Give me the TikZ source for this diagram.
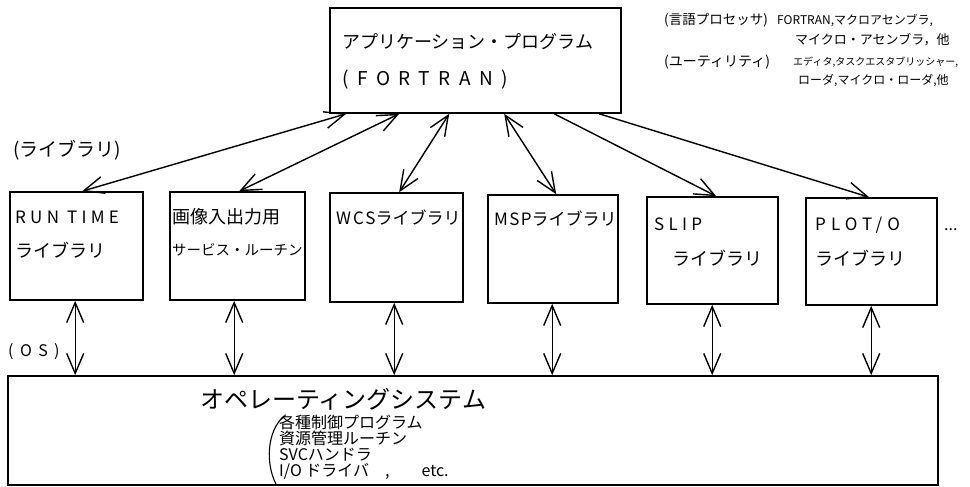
\documentclass[tikz,border=0pt]{standalone}
\usepackage{fontspec}
\setmainfont{Noto Sans CJK JP}
\usetikzlibrary{arrows.meta,calc}
\newcommand{\spc}[1]{\addfontfeatures{LetterSpace=#1}}
\begin{document}
\begin{tikzpicture}[x=1pt,y=-1pt,
  >={Straight Barb[length=20pt,width=17pt,line width=1.4pt]},
  box/.style={draw,line width=1.6pt,inner sep=0pt},
  lbl/.style={inner sep=0pt,anchor=west},
  bothconn/.style={line width=1.4pt,<->},
  oneconn/.style={line width=1.4pt,->}]
\useasboundingbox (0,0) rectangle (970,487);
% boxes
\node[box,minimum width=291pt,minimum height=105pt] (app) at (475.5,60.5) {};
\node[box,minimum width=133pt,minimum height=108pt] (lib1) at (76.5,246) {};
\node[box,minimum width=135pt,minimum height=108pt] (lib2) at (237.5,246) {};
\node[box,minimum width=133pt,minimum height=109pt] (lib3) at (396.5,247.5) {};
\node[box,minimum width=130pt,minimum height=108pt] (lib4) at (553,249) {};
\node[box,minimum width=131pt,minimum height=107pt] (lib5) at (712.5,250.5) {};
\node[box,minimum width=131pt,minimum height=107pt] (lib6) at (871.5,251.5) {};
\node[box,minimum width=930pt,minimum height=109pt] (os) at (473,430.5) {};
% texts
\node[lbl,font=\fontsize{18}{20}\selectfont] (appt1) at (342,42) {アプリケーション・プログラム};
\node[lbl,font=\fontsize{19}{20}\selectfont\spc{45}] (appt2) at (342,80) {(FORTRAN)};
\node[lbl,font=\fontsize{17}{18}\selectfont\spc{25}] (l1a) at (15,217) {RUN TIME};
\node[lbl,font=\fontsize{18}{18}\selectfont] (l1b) at (15,250) {ライブラリ};
\node[lbl,font=\fontsize{18}{18}\selectfont] (l2a) at (172,217) {画像入出力用};
\node[lbl,font=\fontsize{14.5}{16}\selectfont] (l2b) at (172,250) {サービス・ルーチン};
\node[lbl,font=\fontsize{17}{18}\selectfont] (l3a) at (336,218) {{\spc{12}WCS}ライブラリ};
\node[lbl,font=\fontsize{17}{18}\selectfont] (l4a) at (494,219) {{\spc{8}MSP}ライブラリ};
\node[lbl,font=\fontsize{17}{18}\selectfont\spc{25}] (l5a) at (654,224) {SLIP};
\node[lbl,font=\fontsize{18}{18}\selectfont] (l5b) at (672,258) {ライブラリ};
\node[lbl,font=\fontsize{17}{18}\selectfont\spc{30}] (l6a) at (815,225) {PLOT/O};
\node[lbl,font=\fontsize{18}{18}\selectfont] (l6b) at (815,258) {ライブラリ};
\node[lbl,font=\fontsize{16}{18}\selectfont] (dots) at (944,230) {...};
\node[lbl,font=\fontsize{19}{20}\selectfont] (libl) at (13,150) {(ライブラリ)};
\node[lbl,font=\fontsize{16}{18}\selectfont\spc{40}] (osl) at (8,352) {(OS)};
\node[lbl,font=\fontsize{13.5}{15}\selectfont] (r1a) at (664,20) {(言語プロセッサ)};
\node[lbl,font=\fontsize{12}{15}\selectfont] (r1b) at (777,20) {FORTRAN,マクロアセンブラ,};
\node[lbl,font=\fontsize{13}{15}\selectfont] (r2) at (795,40) {マイクロ・アセンブラ，他};
\node[lbl,font=\fontsize{14}{15}\selectfont] (r3a) at (664,62) {(ユーティリティ)};
\node[lbl,font=\fontsize{10}{15}\selectfont] (r3b) at (793,62) {エディタ,タスクエスタブリッシャー,};
\node[lbl,font=\fontsize{12}{15}\selectfont] (r4) at (798,81) {ローダ,マイクロ・ローダ,他};
\node[lbl,font=\fontsize{24}{26}\selectfont] (ost) at (200,399) {オペレーティングシステム};
\node[inner sep=0pt,font=\fontsize{16}{16}\selectfont,align=left,anchor=north west] (osd) at (279,415) {各種制御プログラム\\資源管理ルーチン\\SVCハンドラ\\I/O ドライバ\quad ,\qquad etc.};
\draw[line width=1.1pt] (284,416) .. controls (266,432) and (266,465) .. (276,484);
% connectors app -> libraries
\draw[bothconn] ([xshift=17pt]app.south west) -- ([xshift=73pt]lib1.north west);
\draw[bothconn] ([xshift=70pt]app.south west) -- ([xshift=70pt]lib2.north west);
\draw[bothconn] ([xshift=120pt]app.south west) -- ([xshift=70pt]lib3.north west);
\draw[bothconn] ([xshift=175pt]app.south west) -- ([xshift=69pt]lib4.north west);
\draw[oneconn] ([xshift=225pt]app.south west) -- ([xshift=70pt]lib5.north west);
\draw[oneconn] ([xshift=270pt]app.south west) -- ([xshift=64pt]lib6.north west);
% connectors libraries <-> OS
\foreach \l/\d in {lib1/66,lib2/65,lib3/65,lib4/65,lib5/66,lib6/66}{
  \draw[bothconn] ([xshift=\d pt]\l.south west) -- ([xshift=\d pt]\l.south west |- os.north);
}
\end{tikzpicture}
\end{document}
